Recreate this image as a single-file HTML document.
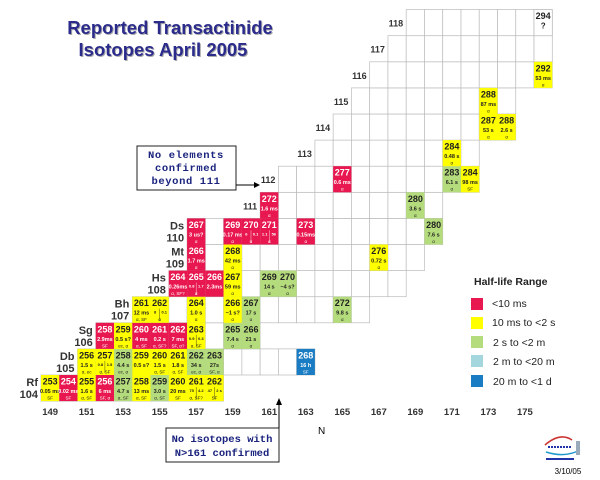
<!DOCTYPE html>
<html><head><meta charset="utf-8"><style>
body{margin:0;background:#fff;width:600px;height:480px;overflow:hidden;font-family:"Liberation Sans",Arial,sans-serif}
svg{position:absolute;left:0;top:0}
</style></head><body>
<svg id="chart" width="600" height="480" font-family="Liberation Sans, Arial, sans-serif">
<g font-weight="bold" font-size="18.5" text-anchor="middle">
<text x="171" y="35" fill="#aaa">Reported Transactinide</text>
<text x="170" y="34" fill="#2b2b8c">Reported Transactinide</text>
<text x="164" y="57" fill="#aaa">Isotopes April 2005</text>
<text x="163" y="56" fill="#2b2b8c">Isotopes April 2005</text>
</g>
<g id="grid"></g><g id="cells"></g><g id="labels"></g>
<g>
<rect x="137" y="146" width="99" height="44" fill="#fff" stroke="#222" stroke-width="1"/>
<g font-family="Liberation Mono, monospace" font-weight="bold" font-size="10.5" fill="#1a237e" text-anchor="middle" letter-spacing="0.6">
<text x="186" y="158">No elements</text><text x="186" y="171">confirmed</text><text x="186" y="184">beyond 111</text></g>
<line x1="236" y1="185" x2="255" y2="185" stroke="#000"/><polygon points="260,185 254,182 254,188" fill="#000"/>
</g>
<g>
<rect x="166" y="428" width="113" height="34" fill="#fff" stroke="#222" stroke-width="1"/>
<g font-family="Liberation Mono, monospace" font-weight="bold" font-size="10.5" fill="#1a237e" text-anchor="middle">
<text x="222" y="442">No isotopes with</text><text x="222" y="456">N&gt;161 confirmed</text></g>
<line x1="279" y1="428" x2="279" y2="404" stroke="#000"/><polygon points="279,398 276,405 282,405" fill="#000"/>
</g>
<g font-size="10.5" fill="#222">
<text x="474" y="285" font-weight="bold">Half-life Range</text>
<rect x="471" y="298" width="12" height="12" fill="#e8174f"/><text x="492" y="307">&lt;10 ms</text>
<rect x="471" y="317" width="12" height="12" fill="#ffff00"/><text x="492" y="326">10 ms to &lt;2 s</text>
<rect x="471" y="336" width="12" height="12" fill="#b5dc7c"/><text x="493" y="346">2 s to &lt;2 m</text>
<rect x="471" y="355" width="12" height="12" fill="#a4d6de"/><text x="493" y="365">2 m  to &lt;20 m</text>
<rect x="471" y="375" width="12" height="12" fill="#1a7dc4"/><text x="493" y="385">20 m  to &lt;1 d</text>
</g>
<text x="318" y="434" font-size="10">N</text>
<g>
<path d="M545 445 Q560 432 572 440" stroke="#c33" fill="none" stroke-width="1.5"/>
<line x1="548" y1="447" x2="572" y2="447" stroke="#23a" stroke-dasharray="2,1" stroke-width="2"/>
<path d="M546 452 Q565 458 580 450" stroke="#29c" fill="none" stroke-width="1.5"/>
<rect x="576" y="441" width="4" height="14" fill="#9ab"/>
<rect x="546" y="458" width="28" height="2" fill="#23a"/>
<text x="568" y="474" font-size="8" text-anchor="middle">3/10/05</text>
</g>
</svg>
<script>
const rowsZ=[104,105,106,107,108,109,110,111,112,113,114,115,116,117,118];
const rowsNmin=[149,151,152,154,156,157,157,161,162,164,165,166,167,168,169];
const rowsNmax=[158,163,160,166,168,169,170,170,172,172,174,174,176,176,176];
const rowLabels=["Rf","Db","Sg","Bh","Hs","Mt","Ds","","","","","","","",""];
const isoZ=[104,104,104,104,104,104,104,104,104,104,105,105,105,105,105,105,105,105,105,106,106,106,106,106,106,106,106,107,107,107,107,107,107,108,108,108,108,108,108,109,109,109,110,110,110,110,110,110,111,111,112,112,112,113,114,114,115,116,118];
const isoA=[253,254,255,256,257,258,259,260,261,262,256,257,258,259,260,261,262,263,268,258,259,260,261,262,263,265,266,261,262,264,266,267,272,264,265,266,267,269,270,266,268,276,267,269,270,271,273,280,272,280,277,283,284,284,287,288,288,292,294];
const isoColor=["y","r","y","r","g","y","g","y","y","y","y","y","g","y","y","y","g","g","b","r","y","r","r","r","y","g","g","y","y","y","y","g","g","r","r","r","y","g","g","r","y","y","r","r","r","r","r","g","r","g","r","g","y","y","y","y","y","y","w"];
const isoHalf=["0.05 ms","0.02 ms","1.6 s","6 ms","4.7 s","13 ms","3.0 s","20 ms","75|4.2","47|2 s","1.5 s","0.8|1.5","4.4 s","0.5 s?","1.5 s","1.8 s","34 s","27s","16 h","2.9ms","0.5 s?","4 ms","0.2 s","7 ms","0.9|0.3","7.4 s","21 s","12 ms","8|0.1","1.0 s","~1 s?","17 s","9.8 s","0.26ms","0.8|1.7","2.3ms","59 ms","14 s","~4 s?","1.7 ms","42 ms","0.72 s","3 us?","0.17 ms","6|0.1","1.1|56","0.15ms","7.6 s","1.6 ms","3.6 s","0.6 ms","6.1 s","98 ms","0.48 s","53 s","2.6 s","87 ms","53 ms","?"];
const isoMode=["SF","SF","α, SF","SF, α","α, SF","α, SF","α, SF","SF","α, SF?","SF","α, ec","α, SF","ec, α","","α, SF","α, SF","ec, α","SF, α","SF","SF","ec, α","α, SF","α, SF?","SF, α?","α, SF","α","α","α, SF","α","α","α","α","α","α, SF?","α","","α","α","α","α","α","α","α","α","α","α","α","α","α","α","α","α","SF","α","α","α","α","α","",""];
const nTicks=[149,151,153,155,157,159,161,163,165,167,169,171,173,175];
const CW=18.26,CH=26.1;
const xN=n=>41+(n-149)*CW, yZ=z=>375-(z-104)*CH;
const NS="http://www.w3.org/2000/svg";
function mk(t,a,p){const e=document.createElementNS(NS,t);for(const k in a)e.setAttribute(k,a[k]);p.appendChild(e);return e;}
const grid=document.getElementById('grid'),cells=document.getElementById('cells'),labels=document.getElementById('labels');
const fill={r:"#e8174f",y:"#ffff00",g:"#b5dc7c",b:"#1a7dc4",w:"#fff"};
rowsZ.forEach((z,i)=>{
  for(let n=rowsNmin[i];n<=rowsNmax[i];n++){
    const r=mk('rect',{x:xN(n),y:yZ(z),width:CW,height:CH,fill:'#fff',stroke:'#bbb','stroke-width':0.7},grid);
    
    
  }
  const lx=xN(rowsNmin[i])-3;
  if(rowLabels[i]){
    const t1=mk('text',{x:lx,y:yZ(z)+11,'font-size':11,'font-weight':'bold','text-anchor':'end',fill:'#333'},labels);t1.textContent=rowLabels[i];
    
    
    const t2=mk('text',{x:lx,y:yZ(z)+23,'font-size':11,'font-weight':'bold','text-anchor':'end',fill:'#333'},labels);t2.textContent=z;
    
    
  }else{
    const t=mk('text',{x:lx,y:yZ(z)+17,'font-size':9,'font-weight':'bold','text-anchor':'end',fill:'#333'},labels);t.textContent=z;
    
    
  }
});
isoA.forEach((a,i)=>{
  const z=isoZ[i],n=a-z,x=xN(n),y=yZ(z),c=isoColor[i];
  const g=mk('g',{},cells);
  
  
  mk('rect',{x:x,y:y,width:CW,height:CH,fill:fill[c],stroke:c==='w'?'#bbb':'none','stroke-width':0.7},g);
  const col=(c==='r'||c==='b')?'#fff':'#222';
  const t=mk('text',{x:x+CW/2,y:y+9.5,'font-size':9,'font-weight':'bold','text-anchor':'middle',fill:col},g);t.textContent=a;
  const h=isoHalf[i];
  if(h.includes('|')){
    const p=h.split('|');
    mk('line',{x1:x+CW/2,y1:y+12,x2:x+CW/2,y2:y+24,stroke:col,'stroke-width':0.4},g);
    [0,1].forEach(k=>{const s=mk('text',{x:x+CW/4+k*CW/2,y:y+17,'font-size':4,'font-weight':'bold','text-anchor':'middle',fill:col},g);s.textContent=p[k];});
  }else{
    const s=mk('text',{x:x+CW/2,y:y+(c==='w'?19:18),'font-size':c==='w'?8:5.5,'font-weight':'bold','text-anchor':'middle',fill:col},g);s.textContent=h;
  }
  if(isoMode[i]){const m=mk('text',{x:x+CW/2,y:y+24.5,'font-size':4.5,'text-anchor':'middle',fill:col},g);m.textContent=isoMode[i];}
});
nTicks.forEach(n=>{
  const t=mk('text',{x:xN(n)+CW/2,y:415,'font-size':9.5,'font-weight':'bold','text-anchor':'middle',fill:'#333'},labels);t.textContent=n;
  
  
});
</script>
</body></html>
